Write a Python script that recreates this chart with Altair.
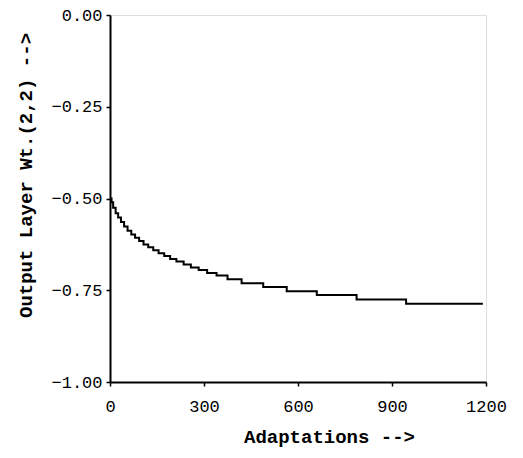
import altair as alt
import pandas as pd

# Step points of the weight trace (x = adaptations, y = weight value), step-after
adaptations = [0, 5, 10, 18, 26, 35, 45, 56, 68, 80, 93, 107, 122, 138, 155, 173,
               192, 212, 235, 258, 283, 310, 340, 375, 420, 489, 564, 660, 787, 945, 1190]
weights = [-0.500, -0.510, -0.525, -0.540, -0.552, -0.564, -0.576, -0.588, -0.598,
           -0.607, -0.616, -0.625, -0.633, -0.641, -0.649, -0.657, -0.665, -0.672,
           -0.680, -0.688, -0.695, -0.703, -0.710, -0.720, -0.731, -0.741, -0.753,
           -0.763, -0.775, -0.787, -0.787]

x_ticks = [0, 300, 600, 900, 1200]
y_ticks = [0.0, -0.25, -0.5, -0.75, -1.0]

df = pd.DataFrame({"x": adaptations, "y": weights})

FONT = "Liberation Mono"

chart = alt.Chart(df).mark_line(
    interpolate="step-after", color="black", strokeWidth=2
).encode(
    x=alt.X("x:Q", scale=alt.Scale(domain=[0, 1200], nice=False, zero=False),
            axis=alt.Axis(values=x_ticks, format="d", title="Adaptations -->", grid=False,
                          domainColor="black", domainWidth=2, tickColor="black",
                          tickSize=4, tickWidth=1.5, labelFont=FONT, labelFontSize=17,
                          labelColor="black", labelPadding=12,
                          labelFlush=False,
                          titleFont=FONT, titleFontSize=19, titleFontWeight="bold",
                          titleColor="black", titleX=219, titleY=54,
                          titleBaseline="middle", titleAnchor="middle",
                          titleAlign="center")),
    y=alt.Y("y:Q", scale=alt.Scale(domain=[-1.0, 0.0], nice=False, zero=False),
            axis=alt.Axis(values=y_ticks, format=".2f", title="Output Layer Wt.(2,2) -->",
                          grid=False, domainColor="black", domainWidth=2,
                          tickColor="black", tickSize=4, tickWidth=1.5,
                          labelFont=FONT, labelFontSize=17, labelColor="black",
                          labelPadding=4, labelFlush=False,
                          titleFont=FONT, titleFontSize=19, titleFontWeight="bold",
                          titleColor="black", titleX=-85, titleY=160,
                          titleAngle=270, titleBaseline="middle",
                          titleAlign="center")),
).properties(
    width=376, height=367,
    autosize=alt.AutoSizeParams(type="none"),
    padding={"left": 102, "top": 7, "right": 29, "bottom": 68},
).configure_view(stroke=None).configure(background="white")

chart.save("out.html", embed_options={"renderer": "svg", "actions": False})
